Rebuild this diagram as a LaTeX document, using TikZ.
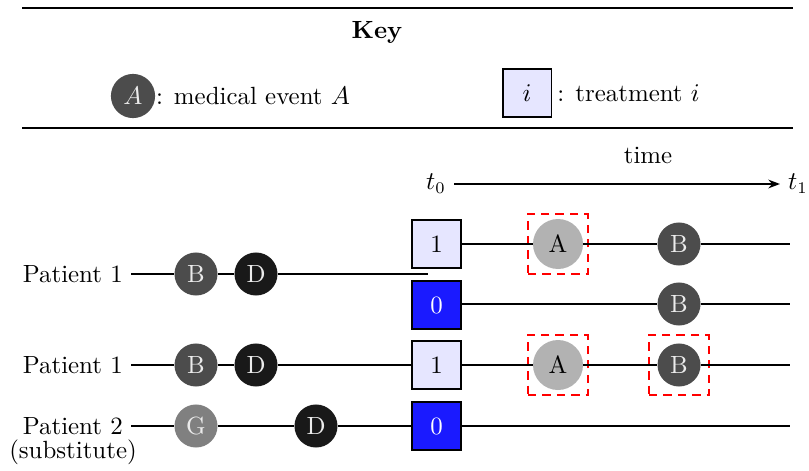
\documentclass[tikz,border=0pt]{standalone}
\usetikzlibrary{arrows.meta}
\definecolor{evB}{gray}{0.30}
\definecolor{evD}{gray}{0.10}
\definecolor{evA}{gray}{0.70}
\definecolor{evG}{gray}{0.50}
\definecolor{trlight}{RGB}{230,230,255}
\definecolor{trdark}{RGB}{26,26,255}
\tikzset{
  ev/.style={circle, minimum size=18.5pt, inner sep=0pt, text=white!92!black},
  evbig/.style={circle, minimum size=21.5pt, inner sep=0pt, text=black},
  trbox/.style={draw, thick, minimum size=21pt, inner sep=0pt},
  hl/.style={draw=red, thick, dash pattern=on 3.6pt off 2.6pt, minimum size=25.8pt, inner sep=0pt},
  tl/.style={thick},
  rule/.style={line width=1.1pt},
}
\begin{document}
\begin{tikzpicture}[x=0.43pt,y=-0.43pt, every node/.style={font=\fontsize{10.7pt}{13pt}\selectfont}]
\useasboundingbox (0,0) rectangle (809,470);
% key
\coordinate (r1a) at (22,8); \coordinate (r1b) at (793,8);
\coordinate (r2a) at (22,128); \coordinate (r2b) at (793,128);
\draw[rule] (r1a) -- (r1b);
\draw[rule] (r2a) -- (r2b);
\node (key) at (377,32) {\textbf{Key}};
\node[ev, fill=evB, minimum size=19pt] (keyA) at (133,96) {$A$};
\node[anchor=west, inner sep=0pt] (keyAt) at (keyA.east) {: medical event $A$};
\node[trbox, fill=trlight] (keyi) at (527,93) {$i$};
\node[anchor=west, inner sep=0pt] (keyit) at ([xshift=2pt]keyi.east) {: treatment $i$};
% time axis
\node (time) at (648,155) {time};
\node (t0) at (436,184) {$t_0$};
\node (t1) at (798,184) {$t_1$};
\draw[thick, -{Stealth[length=5pt]}] (t0) -- (t1);
% row 1 branch (treatment 1)
\node[trbox, fill=trlight] (tr1) at (436.5,244) {1};
\node[evbig, fill=evA] (a1) at (558,244) {A};
\node[hl] (h1) at (558,244) {};
\node[ev, fill=evB] (b1) at (679,244) {B};
\coordinate (e1) at (790,244);
\draw[tl] (tr1) -- (a1) -- (b1) -- (e1);
% patient 1 first
\node[anchor=east] (p1) at (131,274) {Patient 1};
\node[ev, fill=evB] (b2) at (196,274) {B};
\node[ev, fill=evD] (d2) at (256,274) {D};
\coordinate (e2) at (428,274);
\draw[tl] (p1) -- (b2) -- (d2) -- (e2);
% row 0 branch
\node[trbox, fill=trdark, text=white] (tr0) at (436.5,305) {0};
\node[ev, fill=evB] (b3) at (679,304) {B};
\coordinate (e3) at (790,304);
\draw[tl] (tr0.east |- b3) -- (b3) -- (e3);
% patient 1 second
\node[anchor=east] (p1b) at (131,365) {Patient 1};
\node[ev, fill=evB] (b4) at (196,365) {B};
\node[ev, fill=evD] (d4) at (256,365) {D};
\node[trbox, fill=trlight] (tr4) at (436.5,365) {1};
\node[evbig, fill=evA] (a4) at (558,365) {A};
\node[hl] (h4) at (558,365) {};
\node[ev, fill=evB] (b4b) at (679,365) {B};
\node[hl] (h4b) at (679,365) {};
\coordinate (e4) at (790,365);
\draw[tl] (p1b) -- (b4) -- (d4) -- (tr4) -- (a4) -- (b4b) -- (e4);
% patient 2
\node[anchor=east] (p2) at (131,426) {Patient 2};
\node (p2s) at (73,452) {(substitute)};
\node[ev, fill=evG] (g5) at (196,426) {G};
\node[ev, fill=evD] (d5) at (316,426) {D};
\node[trbox, fill=trdark, text=white] (tr5) at (436.5,426) {0};
\coordinate (e5) at (790,426);
\draw[tl] (p2) -- (g5) -- (d5) -- (tr5) -- (e5);
\end{tikzpicture}
\end{document}
